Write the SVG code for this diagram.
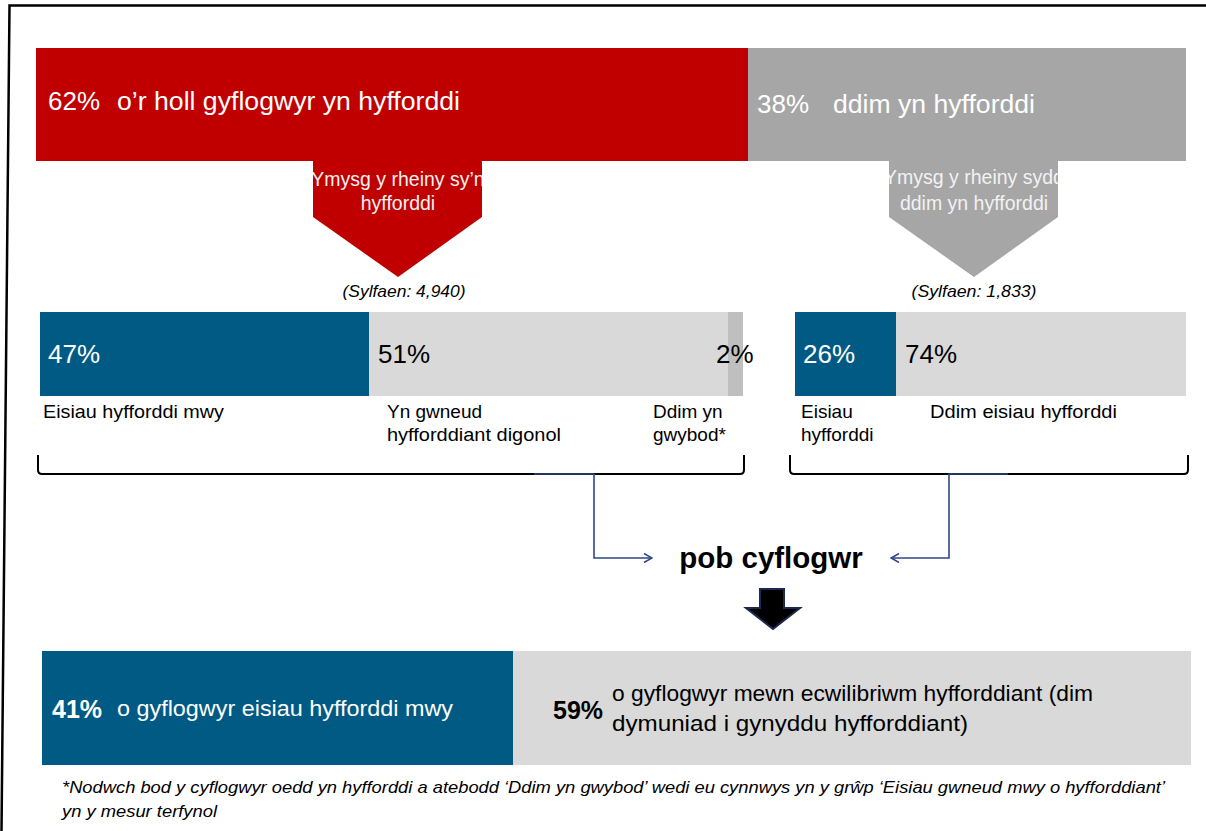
<svg xmlns="http://www.w3.org/2000/svg" width="1206" height="831" viewBox="0 0 1206 831">
  <style>
    text { font-family: "Liberation Sans", Arial, sans-serif; }
    .wt { fill: #ffffff; }
    .bk { fill: #000000; }
    .big { font-size: 26px; }
    .lbl { font-size: 19px; fill: #000000; }
    .arr { font-size: 19.5px; fill: #f2f2f2; text-anchor: middle; }
    .base { font-size: 17px; font-style: italic; fill: #000000; text-anchor: middle; }
    .res { font-size: 21.5px; }
    .bold { font-weight: bold; }
    .note { font-size: 17px; font-style: italic; fill: #000000; }
    .brace { fill: none; stroke: #000000; stroke-width: 2; }
    .link { fill: none; stroke: #2f4786; stroke-width: 1.6; }
  </style>
  <defs>
    <marker id="chev" viewBox="0 0 10 10" refX="9" refY="5" markerWidth="10" markerHeight="10" markerUnits="userSpaceOnUse" orient="auto">
      <path d="M1,0.5 L9,5 L1,9.5" fill="none" stroke="#2f4786" stroke-width="1.6"/>
    </marker>
    <clipPath id="clipRed"><path d="M313,161 H482 V217 L398,277 L313,217 Z"/></clipPath>
    <clipPath id="clipGrey"><path d="M889,161 H1058 V217 L974,277 L889,217 Z"/></clipPath>
  </defs>

  <!-- outer frame -->
  <path d="M1206,5.5 H9.5 L1.5,831" fill="none" stroke="#000000" stroke-width="2.5"/>

  <!-- top split: training / not training -->
  <g id="top-training">
    <rect x="36" y="48" width="712" height="113" fill="#c00000"/>
    <text class="wt big" x="48" y="110">62%</text>
    <text class="wt big" x="117" y="110" textLength="343" lengthAdjust="spacingAndGlyphs">o’r holl gyflogwyr yn hyfforddi</text>
  </g>
  <g id="top-not-training">
    <rect x="748" y="48" width="438" height="113" fill="#a6a6a6"/>
    <text class="wt big" x="757" y="113">38%</text>
    <text class="wt big" x="833" y="113" textLength="202" lengthAdjust="spacingAndGlyphs">ddim yn hyfforddi</text>
  </g>

  <!-- downward pointers -->
  <g id="pointer-training">
    <path d="M313,161 H482 V217 L398,277 L313,217 Z" fill="#c00000"/>
    <g clip-path="url(#clipRed)">
      <text class="arr" x="398" y="186">Ymysg y rheiny sy’n</text>
      <text class="arr" x="398" y="210">hyfforddi</text>
    </g>
    <text class="base" x="404" y="297" textLength="123" lengthAdjust="spacingAndGlyphs">(Sylfaen: 4,940)</text>
  </g>
  <g id="pointer-not-training">
    <path d="M889,161 H1058 V217 L974,277 L889,217 Z" fill="#a6a6a6"/>
    <g clip-path="url(#clipGrey)">
      <text class="arr" x="974" y="184">Ymysg y rheiny sydd</text>
      <text class="arr" x="974" y="210">ddim yn hyfforddi</text>
    </g>
    <text class="base" x="974" y="297" textLength="125" lengthAdjust="spacingAndGlyphs">(Sylfaen: 1,833)</text>
  </g>

  <!-- breakdown among those training -->
  <g id="bar-training">
    <rect x="40" y="312" width="329" height="84" fill="#005a84"/>
    <rect x="369" y="312" width="359" height="84" fill="#d9d9d9"/>
    <rect x="728" y="312" width="15" height="84" fill="#bfbfbf"/>
    <text class="wt big" x="48" y="363">47%</text>
    <text class="bk big" x="378" y="363">51%</text>
    <text class="bk big" x="716" y="363">2%</text>
    <text class="lbl" x="43" y="418" textLength="181" lengthAdjust="spacingAndGlyphs">Eisiau hyfforddi mwy</text>
    <text class="lbl" x="387" y="418">Yn gwneud</text>
    <text class="lbl" x="387" y="441" textLength="174" lengthAdjust="spacingAndGlyphs">hyfforddiant digonol</text>
    <text class="lbl" x="653" y="418">Ddim yn</text>
    <text class="lbl" x="653" y="441">gwybod*</text>
    <path class="brace" d="M38,455 V470 Q38,474 42,474 H740 Q744,474 744,470 V455"/>
  </g>

  <!-- breakdown among those not training -->
  <g id="bar-not-training">
    <rect x="795" y="312" width="101" height="84" fill="#005a84"/>
    <rect x="896" y="312" width="290" height="84" fill="#d9d9d9"/>
    <text class="wt big" x="803" y="363">26%</text>
    <text class="bk big" x="905" y="363">74%</text>
    <text class="lbl" x="801" y="418">Eisiau</text>
    <text class="lbl" x="801" y="441">hyfforddi</text>
    <text class="lbl" x="930" y="418" textLength="187" lengthAdjust="spacingAndGlyphs">Ddim eisiau hyfforddi</text>
    <path class="brace" d="M790,455 V470 Q790,474 794,474 H1184 Q1188,474 1188,470 V455"/>
  </g>

  <!-- connectors -->
  <g id="connectors">
    <path class="link" d="M534,474 H594 V558 H652" marker-end="url(#chev)"/>
    <path class="link" d="M1008,474 H949 V558 H891" marker-end="url(#chev)"/>
  </g>

  <g id="all-employers">
    <text class="bk bold" x="771" y="568" font-size="29.5" text-anchor="middle">pob cyflogwr</text>
    <path d="M760,589 H784 V608 H800 L773,629 L746,608 H760 Z" fill="#000000" stroke="#1c2a4f" stroke-width="2" stroke-linejoin="miter"/>
  </g>

  <!-- overall result -->
  <g id="result-more">
    <rect x="42" y="651" width="471" height="114" fill="#005a84"/>
    <text class="wt bold" x="52" y="718" font-size="25">41%</text>
    <text class="wt res" x="117" y="716" textLength="336" lengthAdjust="spacingAndGlyphs">o gyflogwyr eisiau hyfforddi mwy</text>
  </g>
  <g id="result-balance">
    <rect x="513" y="651" width="678" height="114" fill="#d9d9d9"/>
    <text class="bk bold" x="553" y="719" font-size="25">59%</text>
    <text class="bk res" x="612" y="701" textLength="481" lengthAdjust="spacingAndGlyphs">o gyflogwyr mewn ecwilibriwm hyfforddiant (dim</text>
    <text class="bk res" x="612" y="731" textLength="356" lengthAdjust="spacingAndGlyphs">dymuniad i gynyddu hyfforddiant)</text>
  </g>

  <!-- footnote -->
  <g id="footnote">
    <text class="note" x="62" y="793" textLength="1103" lengthAdjust="spacingAndGlyphs">*Nodwch bod y cyflogwyr oedd yn hyfforddi a atebodd ‘Ddim yn gwybod’ wedi eu cynnwys yn y grŵp ‘Eisiau gwneud mwy o hyfforddiant’</text>
    <text class="note" x="62" y="817" textLength="155" lengthAdjust="spacingAndGlyphs">yn y mesur terfynol</text>
  </g>
</svg>
